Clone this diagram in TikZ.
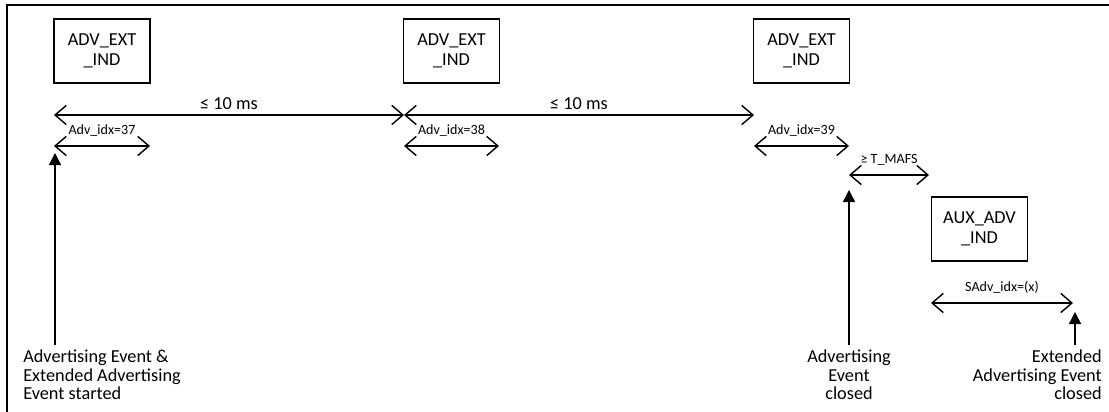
\documentclass[tikz,border=0pt]{standalone}
\usepackage{fontspec}
\setmainfont{Carlito}
\usetikzlibrary{arrows.meta, positioning}

\begin{document}
\begin{tikzpicture}[
  x=0.025cm, y=-0.025cm,
  pdu/.style={rectangle, draw=black, line width=1pt, minimum width=2.4cm,
              minimum height=1.6cm, align=center, inner sep=1pt,
              font=\fontsize{13}{14.5}\selectfont},
  span/.style={{Straight Barb[length=2.8mm, width=4.8mm]}-{Straight Barb[length=2.8mm, width=4.8mm]},
               line width=1pt},
  evt/.style={-{Triangle[length=3mm, width=3mm]}, line width=1pt},
  ival/.style={font=\fontsize{13}{14}\selectfont, inner sep=3pt},
  idx/.style={font=\fontsize{10}{12}\selectfont, inner sep=1pt},
  note/.style={font=\fontsize{13}{13}\selectfont, inner sep=0pt}
]
  \useasboundingbox (0,0) rectangle (1109,412);
  \clip (0,0) rectangle (1109,412);
  \draw[line width=1.6pt] (7,5) rectangle (1300,600);

  % PDUs
  \node[pdu] (ext1) at (102,51)   {ADV\_EXT\\\_IND};
  \node[pdu] (ext2) at (451.5,51) {ADV\_EXT\\\_IND};
  \node[pdu] (ext3) at (801.5,51) {ADV\_EXT\\\_IND};
  \node[pdu] (aux)  at (979.5,229) {AUX\_ADV\\\_IND};

  % time marks
  \coordinate (t1) at (54,115);
  \coordinate (t2) at (404,115);
  \coordinate (t3) at (754,115);
  \coordinate (s1a) at (54,146);  \coordinate (s1b) at (150,146);
  \coordinate (s2a) at (404,146); \coordinate (s2b) at (499,146);
  \coordinate (s3a) at (754,146); \coordinate (s3b) at (849,146);
  \coordinate (ma)  at (849,175); \coordinate (mb)  at (929,175);
  \coordinate (xa)  at (931,303); \coordinate (xb)  at (1073,303);

  \draw[span] (t1) -- node[ival, above]{≤ 10 ms} (t2);
  \draw[span] (t2) -- node[ival, above]{≤ 10 ms} (t3);
  \draw[span] (s1a) -- node[idx, above=5pt]{Adv\_idx=37} (s1b);
  \draw[span] (s2a) -- node[idx, above=5pt]{Adv\_idx=38} (s2b);
  \draw[span] (s3a) -- node[idx, above=5pt]{Adv\_idx=39} (s3b);
  \draw[span] (ma) -- node[idx, above=5pt]{≥ T\_MAFS} (mb);
  \draw[span] (xa) -- node[idx, above=5pt]{SAdv\_idx=(x)} (xb);

  % events
  \coordinate (e1) at (55,345);
  \coordinate (e2) at (849,345);
  \coordinate (e3) at (1075,345);
  \node[note, anchor=north west, align=left] (start) at (23,350)
    {Advertising Event \&\\Extended Advertising\\Event started};
  \node[note, anchor=north, align=center] (closed) at (849,350)
    {Advertising\\Event\\closed};
  \node[note, anchor=north east, align=right] (xclosed) at (1102,350)
    {Extended\\Advertising Event\\closed};

  \draw[evt] (e1) -- (55,153);
  \draw[evt] (e2) -- (849,190);
  \draw[evt] (e3) -- (1075,312);
\end{tikzpicture}
\end{document}
